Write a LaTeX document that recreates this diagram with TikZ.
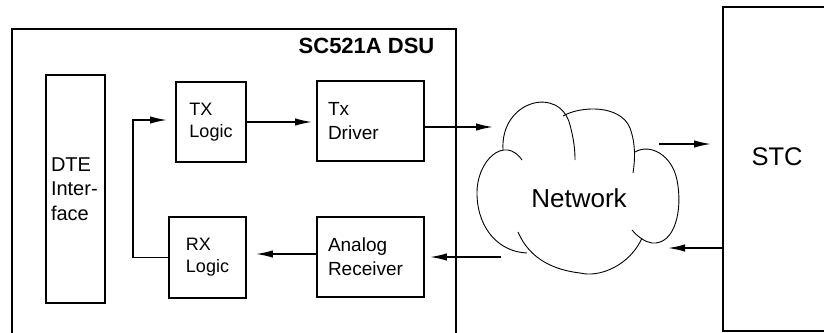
\documentclass[tikz,border=0pt]{standalone}
\usepackage{fontspec}
\setmainfont{Liberation Sans}
\usetikzlibrary{arrows.meta}

\tikzset{
  blk/.style={draw, line width=1.9pt, inner sep=0pt, font=\fontsize{19}{24}\selectfont, align=left},
  arr/.style={line width=1.6pt, -{Latex[length=17pt,width=7.5pt]}},
  lobe/.style={line width=0.9pt},
}

\begin{document}
\begin{tikzpicture}[x=1pt,y=-1pt]
            \useasboundingbox (0,0) rectangle (824,332);
            \clip (0,0) rectangle (824,332);
            % the DSU and its blocks
            \node[blk, minimum width=444pt, minimum height=316pt] (dsu) at (234,187) {};
            \node[anchor=base east, font=\bfseries\fontsize{22}{26}\selectfont] (dsuname) at ([xshift=-19pt,yshift=-25pt]dsu.north east) {SC521A DSU};
            \node[blk, minimum width=59pt, minimum height=228pt, text width=49pt, font=\fontsize{20}{24.5}\selectfont] (dte) at (75.5,189) {DTE\\Inter-\\face};
            \node[blk, minimum width=70pt, minimum height=80pt, font=\fontsize{18}{22}\selectfont] (tx) at (211,122) {TX\\Logic};
            \node[blk, minimum width=77pt, minimum height=81pt, font=\fontsize{18}{22}\selectfont] (rx) at (207.5,257.5) {RX\\Logic};
            \node[blk, minimum width=107pt, minimum height=80pt, text width=85pt] (drv) at (370.5,121) {Tx\\Driver};
            \node[blk, minimum width=107pt, minimum height=80pt, text width=85pt] (rcv) at (370.5,257) {Analog\\Receiver};
            \node[blk, minimum width=108pt, minimum height=324pt] (stc) at (777,169) {};
            \node[font=\fontsize{25.5}{30}\selectfont] (stcname) at ([yshift=12.5pt]stc.center) {STC};
            % cloud
            \draw[lobe] (503,150) .. controls (500,100) and (560,85) .. (570,125) .. controls (574,140) and (575,150) .. (575,160);
            \draw[lobe] (563,116) .. controls (580,106) and (620,104) .. (630,128) .. controls (636,145) and (635,160) .. (633,173);
            \draw[lobe] (635,152) .. controls (650,143) and (672,155) .. (677,180) .. controls (683,210) and (675,245) .. (652,243) .. controls (645,242) and (638,237) .. (632,230);
            \draw[lobe] (642,238) .. controls (630,265) and (600,278) .. (580,273) .. controls (555,270) and (530,260) .. (518,232);
            \draw[lobe] (527,253) .. controls (500,252) and (478,230) .. (477,195) .. controls (476,160) and (505,135) .. (522,160);
            \node[font=\fontsize{26}{30}\selectfont, anchor=base] (net) at (579,207) {Network};
            \coordinate (txin) at (493,127);
            \coordinate (txout) at (659,144);
            \coordinate (rxin) at (668,248);
            \coordinate (rxout) at (501,257);
            % signal paths
            \draw[arr, shorten >=4pt] (tx.east) -- (tx.east -| drv.west);
            \draw[arr] ([yshift=-6pt]drv.east) -- (txin);
            \draw[arr, shorten >=11pt] (txout) -- (txout -| stc.west);
            \draw[arr] (rxin -| stc.west) -- (rxin);
            \draw[arr, shorten >=5pt] (rxout) -- (rxout -| rcv.east);
            \draw[arr, shorten >=9pt] ([yshift=3pt]rcv.west) -- ([yshift=3pt]rcv.west -| rx.east);
            \draw[arr, shorten >=8pt] (rx.west) -- ++(-35,0) |- ([yshift=2pt]tx.west);
        \end{tikzpicture}
\end{document}
